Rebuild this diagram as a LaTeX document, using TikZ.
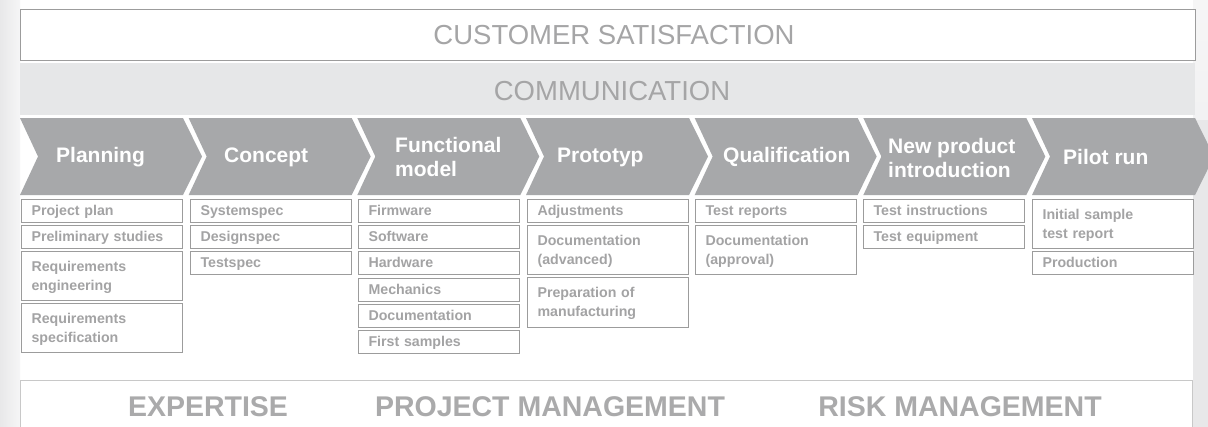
\documentclass[tikz,border=0pt]{standalone}
\usepackage{fontspec}
\setmainfont{Liberation Sans}
\definecolor{boxline}{HTML}{9C9C9C}
\definecolor{boxtext}{HTML}{A3A3A4}
\definecolor{chev}{HTML}{A7A8AA}
\definecolor{band}{HTML}{E6E7E8}
\definecolor{headtext}{HTML}{A5A5A6}
\definecolor{foottext}{HTML}{AAAAAB}
\definecolor{footline}{HTML}{C8C8C8}
\definecolor{margin}{HTML}{E8E8E9}
\tikzset{
  bx/.style={draw=boxline, line width=1.1pt, fill=white, text=boxtext,
    font=\fontsize{14.2}{19}\selectfont\bfseries, text width=141pt,
    inner xsep=10pt, inner ysep=0pt, align=left, minimum height=23pt,
    text height=11pt, text depth=2pt, anchor=north west},
  bx2/.style={bx, minimum height=49pt, text depth=21pt},
  chevlabel/.style={text=white, font=\fontsize{21}{24}\selectfont\bfseries,
    inner sep=0pt, anchor=west, align=left},
  headlabel/.style={text=headtext, font=\fontsize{27.5}{30}\selectfont, inner sep=0pt},
  footlabel/.style={text=foottext, font=\fontsize{28.5}{30}\selectfont\bfseries, inner sep=0pt}
}
\begin{document}
\begin{tikzpicture}[x=1pt,y=-1pt]
\useasboundingbox (0,0) rectangle (1208,426);
\clip (0,0) rectangle (1208,426);
% background
\fill[white] (0,0) rectangle (1208,426);
\shade[left color=margin, right color=margin!40] (0,0) rectangle (20,426);
\shade[top color=margin!40, bottom color=margin] (1193,0) rectangle (1208,426);
\fill[margin] (1193,120) rectangle (1208,426);
% customer satisfaction
\draw[draw=boxline, line width=0.9pt, fill=white] (20,9) rectangle (1195,60);
\node[headlabel] (cs) at (614,35) {CUSTOMER SATISFACTION};
% communication
\fill[band] (20,63) rectangle (1195,115);
\node[headlabel] (comm) at (612,91) {COMMUNICATION};
% chevrons
\foreach \i in {0,...,6}{
  \pgfmathsetmacro{\xa}{20+168.67*\i}
  \fill[chev] (\xa,118) -- (\xa+163,118) -- (\xa+182,156.5) -- (\xa+163,195)
     -- (\xa,195) -- (\xa+18,156.5) -- cycle;
}
\node[chevlabel] (c1) at (56,157) {Planning};
\node[chevlabel] (c2) at (224,157) {Concept};
\node[chevlabel] (c3) at (395,157) {Functional\\model};
\node[chevlabel] (c4) at (557,157) {Prototyp};
\node[chevlabel] (c5) at (723,157) {Qualification};
\node[chevlabel] (c6) at (888,158) {New product\\introduction};
\node[chevlabel] (c7) at (1063,157) {Pilot run};
% boxes: Planning
\node[bx]  (p1) at (21,199) {Project plan};
\node[bx]  (p2) at (21,225) {Preliminary studies};
\node[bx2] (p3) at (21,251) {Requirements\\engineering};
\node[bx2] (p4) at (21,303) {Requirements\\specification};
% Concept
\node[bx] (k1) at (190,199) {Systemspec};
\node[bx] (k2) at (190,225) {Designspec};
\node[bx] (k3) at (190,251) {Testspec};
% Functional model
\node[bx] (f1) at (358,199) {Firmware};
\node[bx] (f2) at (358,225) {Software};
\node[bx] (f3) at (358,251) {Hardware};
\node[bx] (f4) at (358,278) {Mechanics};
\node[bx] (f5) at (358,304) {Documentation};
\node[bx] (f6) at (358,330) {First samples};
% Prototyp
\node[bx]  (t1) at (527,199) {Adjustments};
\node[bx2] (t2) at (527,225) {Documentation\\(advanced)};
\node[bx2, minimum height=50pt] (t3) at (527,277) {Preparation of\\manufacturing};
% Qualification
\node[bx]  (q1) at (695,199) {Test reports};
\node[bx2] (q2) at (695,225) {Documentation\\(approval)};
% New product introduction
\node[bx] (n1) at (863,199) {Test instructions};
\node[bx] (n2) at (863,225) {Test equipment};
% Pilot run
\node[bx2] (r1) at (1032,199) {Initial sample\\test report};
\node[bx]  (r2) at (1032,251) {Production};
% bottom
\draw[draw=footline, line width=1pt, fill=white] (20,380) rectangle (1192,440);
\node[footlabel] (e1) at (208,406.5) {EXPERTISE};
\node[footlabel] (e2) at (550,406.5) {PROJECT MANAGEMENT};
\node[footlabel] (e3) at (960,406.5) {RISK MANAGEMENT};
\end{tikzpicture}
\end{document}
